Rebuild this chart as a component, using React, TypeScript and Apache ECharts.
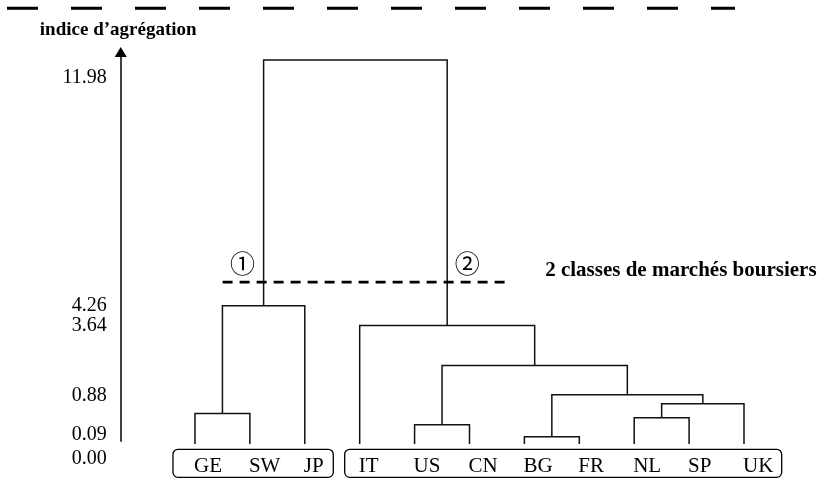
import React, { useEffect, useRef } from 'react';
import * as echarts from 'echarts';

// ---------- data ----------
const leaves = ['GE', 'SW', 'JP', 'IT', 'US', 'CN', 'BG', 'FR', 'NL', 'SP', 'UK'];
// each merge: [childA, childB, aggregation height (axis units)]
// a string child is a leaf, a number child is the index of an earlier merge
const merges: [string | number, string | number, number][] = [
  ['BG', 'FR', 0.145],
  ['US', 'CN', 0.52],
  ['NL', 'SP', 0.74],
  ['GE', 'SW', 0.87],
  [2, 'UK', 1.18],
  [0, 4, 1.46],
  [1, 5, 2.38],
  [3, 'JP', 4.26],
  ['IT', 6, 3.64],
  [7, 8, 11.98],
];
const tickLabels = ['11.98', '4.26', '3.64', '0.88', '0.09', '0.00'];
const tickLevels = [11.48, 4.32, 3.68, 1.48, 0.25, 0];
const cutLevel = 5.0;
const clusterMarks = ['①', '②'];
const cutLabel = '2 classes de marchés boursiers';
const axisTitle = 'indice d’agrégation';
const leafGroups: [string, string][] = [['GE', 'JP'], ['IT', 'UK']];

// ---------- layout / style ----------
const SERIF = "'Liberation Serif', 'Times New Roman', serif";
const LEAF_BASE = -0.085;
const Y_MAX = 12.23;
const X_MIN = -1.353;
const X_MAX = 11;
const LINE_COLOR = '#111';
const layout = {
  cutPad: [41, 64],
  markDx: [-21, 20],
  markDy: -20,
  cutTextDx: 34,
  cutTextDy: -13,
  boxPads: [[22, 28.5], [15, 37.7]],
  boxTop: 8,
  boxBottom: 36,
};

type Node = { x: number; h: number; ax: number; ah: number; bx: number; bh: number };
const nodes: Node[] = [];
const info = (c: string | number) =>
  typeof c === 'string' ? { x: leaves.indexOf(c), h: LEAF_BASE } : { x: nodes[c].x, h: nodes[c].h };
merges.forEach(([a, b, h]) => {
  const A = info(a);
  const B = info(b);
  nodes.push({ x: (A.x + B.x) / 2, h, ax: A.x, ah: A.h, bx: B.x, bh: B.h });
});
const root = merges[merges.length - 1];
const clusterNodes = [info(root[0]), info(root[1])];

const markStyle = (text: string, x: number, y: number) => ({
  type: 'text',
  style: {
    text,
    x,
    y,
    align: 'center',
    verticalAlign: 'middle',
    fontSize: 25,
    fontFamily: "'Noto Sans CJK JP', 'DejaVu Sans', sans-serif",
    fill: '#000',
  },
});

export default function App() {
  const ref = useRef<HTMLDivElement>(null);
  useEffect(() => {
    if (!ref.current) return;
    const chart = echarts.init(ref.current, null, { renderer: 'svg' });
    const option: any = {
      animation: false,
      grid: { left: 120.7, right: 23.1, top: 52, bottom: 37.7 },
      xAxis: {
        type: 'value',
        min: X_MIN,
        max: X_MAX,
        axisLine: { show: false },
        axisTick: { show: false },
        splitLine: { show: false },
        axisLabel: {
          customValues: leaves.map((_, i) => i),
          formatter: (v: number) => leaves[Math.round(v)],
          align: 'left',
          padding: [0, 0, 0, -1],
          margin: 13,
          fontSize: 21,
          fontFamily: SERIF,
          color: '#000',
        },
      },
      yAxis: {
        type: 'value',
        min: 0,
        max: Y_MAX,
        name: axisTitle,
        nameLocation: 'end',
        nameGap: 14,
        nameTextStyle: {
          fontFamily: SERIF,
          fontWeight: 'bold',
          fontSize: 19,
          color: '#000',
          align: 'center',
          verticalAlign: 'bottom',
          padding: [0, 5, 0, 0],
        },
        axisLine: {
          show: true,
          onZero: false,
          symbol: ['none', 'triangle'],
          symbolSize: [12, 10],
          lineStyle: { color: '#000', width: 1.5 },
        },
        axisTick: { show: false },
        splitLine: { show: false },
        axisLabel: {
          customValues: tickLevels,
          showMinLabel: true,
          showMaxLabel: true,
          hideOverlap: false,
          formatter: (v: number) => {
            const i = tickLevels.indexOf(v);
            const t = i >= 0 ? tickLabels[i] : '';
            return v === 0 ? '{z|' + t + '}' : t;
          },
          rich: {
            z: { padding: [31, 0, 0, 0], fontSize: 20, fontFamily: SERIF, color: '#000' },
          },
          margin: 14,
          fontSize: 20,
          fontFamily: SERIF,
          color: '#000',
        },
      },
      graphic: [
        {
          type: 'line',
          shape: { x1: 7, y1: 8.3, x2: 735, y2: 8.3 },
          style: { stroke: '#000', lineWidth: 3, lineDash: [31, 33] },
        },
      ],
      series: [
        {
          type: 'custom',
          name: 'dendrogram',
          data: nodes.map((n) => [n.ax, n.bx, n.ah, n.bh, n.h]),
          encode: { x: [0, 1], y: [2, 3, 4] },
          renderItem: (params: any, api: any) => {
            const ax = api.value(0);
            const bx = api.value(1);
            const ah = api.value(2);
            const bh = api.value(3);
            const h = api.value(4);
            return {
              type: 'polyline',
              shape: {
                points: [api.coord([ax, ah]), api.coord([ax, h]), api.coord([bx, h]), api.coord([bx, bh])],
              },
              style: { stroke: LINE_COLOR, lineWidth: 1.5, fill: 'none' },
            };
          },
        },
        {
          type: 'custom',
          name: 'annotations',
          data: [[cutLevel]],
          renderItem: (params: any, api: any) => {
            const level = api.value(0);
            const [lx, cy] = api.coord([clusterNodes[0].x, level]);
            const [rx] = api.coord([clusterNodes[1].x, level]);
            const y0 = api.coord([0, 0])[1];
            const x1 = lx - layout.cutPad[0];
            const x2 = rx + layout.cutPad[1];
            const children: any[] = [
              {
                type: 'line',
                shape: { x1, y1: cy, x2, y2: cy },
                style: { stroke: '#000', lineWidth: 2.6, lineDash: [10, 7] },
              },
              markStyle(clusterMarks[0], lx + layout.markDx[0], cy + layout.markDy),
              markStyle(clusterMarks[1], rx + layout.markDx[1], cy + layout.markDy),
              {
                type: 'text',
                style: {
                  text: cutLabel,
                  x: x2 + layout.cutTextDx,
                  y: cy + layout.cutTextDy,
                  align: 'left',
                  verticalAlign: 'middle',
                  fontSize: 21,
                  fontWeight: 'bold',
                  fontFamily: SERIF,
                  fill: '#000',
                },
              },
            ];
            leafGroups.forEach(([a, b], gi) => {
              const xa = api.coord([leaves.indexOf(a), 0])[0] - layout.boxPads[gi][0];
              const xb = api.coord([leaves.indexOf(b), 0])[0] + layout.boxPads[gi][1];
              children.push({
                type: 'rect',
                shape: {
                  x: xa,
                  y: y0 + layout.boxTop,
                  width: xb - xa,
                  height: layout.boxBottom - layout.boxTop,
                  r: 5,
                },
                style: { fill: 'none', stroke: '#000', lineWidth: 1.3 },
              });
            });
            return { type: 'group', children };
          },
        },
      ],
    };
    chart.setOption(option);
    return () => chart.dispose();
  }, []);
  return <div ref={ref} style={{ position: 'fixed', left: 0, top: 0, width: 822, height: 479 }} />;
}
